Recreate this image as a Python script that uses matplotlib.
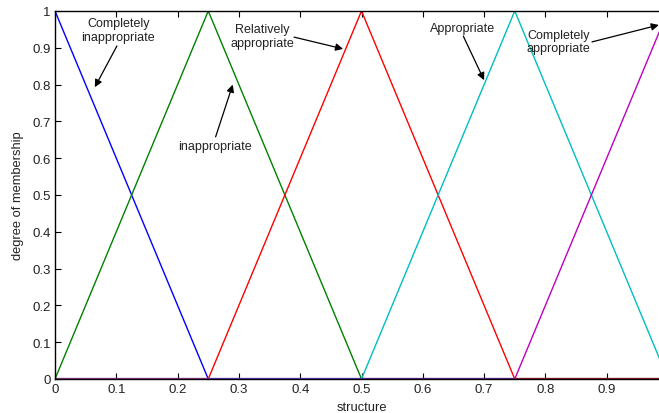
import matplotlib
matplotlib.use("Agg")
import matplotlib.pyplot as plt

# membership functions of "structure"
x = [0, 0.25, 0.5, 0.75, 1.0]
completely_inappropriate = [1, 0, 0, 0, 0]
inappropriate = [0, 1, 0, 0, 0]
relatively_appropriate = [0, 0, 1, 0, 0]
appropriate = [0, 0, 0, 1, 0]
completely_appropriate = [0, 0, 0, 0, 1]

series = [completely_inappropriate, inappropriate, relatively_appropriate,
          appropriate, completely_appropriate]
colors = ['#0000FF', '#008000', '#FF0000', '#00BFBF', '#BF00BF']

# labels: text, text position, arrow tip
labels = ["Completely\ninappropriate", "inappropriate", "Relatively\nappropriate",
          "Appropriate", "Completely\nappropriate"]
text_xy = [(0.103, 0.948), (0.261, 0.633), (0.338, 0.931), (0.664, 0.954), (0.821, 0.917)]
tip_xy = [(0.065, 0.793), (0.290, 0.800), (0.470, 0.897), (0.700, 0.812), (0.985, 0.962)]
arrow_starts = [(0.101, 0.905), (0.262, 0.658), (0.390, 0.929), (0.666, 0.932), (0.876, 0.916)]

# baseline looks like a blend of the overlapping zero parts
base_colors = ['#8A3A8A', '#5E3DB2', '#5E2A8C', '#8B1E1E']

plt.rcParams['font.family'] = ['Liberation Sans', 'DejaVu Sans']

fig = plt.figure(figsize=(6.59, 4.14), dpi=100)
ax = fig.add_axes([55 / 659, 1 - 380 / 414, 613 / 659, 368 / 414])

for y, c in zip(series, colors):
    ax.plot(x, y, color=c, lw=1)

for i, c in enumerate(base_colors):
    ax.plot(x[i:i + 2], [0, 0], color=c, lw=2.4, solid_capstyle='butt')

for lab, txy, tip, st in zip(labels, text_xy, tip_xy, arrow_starts):
    ax.text(txy[0], txy[1], lab, ha='center', va='center', fontsize=9,
            color='#222222', linespacing=1.2)
    ax.annotate('', xy=tip, xytext=st,
                arrowprops=dict(arrowstyle='-|>', color='black', lw=0.9,
                                mutation_scale=11, shrinkA=0, shrinkB=0))

ax.set_xlim(0, 1)
ax.set_ylim(0, 1)
ax.set_xticks([0, 0.1, 0.2, 0.3, 0.4, 0.5, 0.6, 0.7, 0.8, 0.9])
ax.set_xticklabels(['0', '0.1', '0.2', '0.3', '0.4', '0.5', '0.6', '0.7', '0.8', '0.9'])
ax.set_yticks([0, 0.1, 0.2, 0.3, 0.4, 0.5, 0.6, 0.7, 0.8, 0.9, 1])
ax.set_yticklabels(['0', '0.1', '0.2', '0.3', '0.4', '0.5', '0.6', '0.7', '0.8', '0.9', '1'])
ax.tick_params(direction='in', length=4, width=0.8, labelsize=9.5, top=True,
               colors='black', labelcolor='#222222', pad=3)
for s in ax.spines.values():
    s.set_linewidth(1.0)
ax.set_xlabel("structure", fontsize=9.3, color='#222222', labelpad=4)
ax.set_ylabel("degree of membership", fontsize=9.3, color='#222222', labelpad=6)

fig.savefig("out.png", dpi=100)
